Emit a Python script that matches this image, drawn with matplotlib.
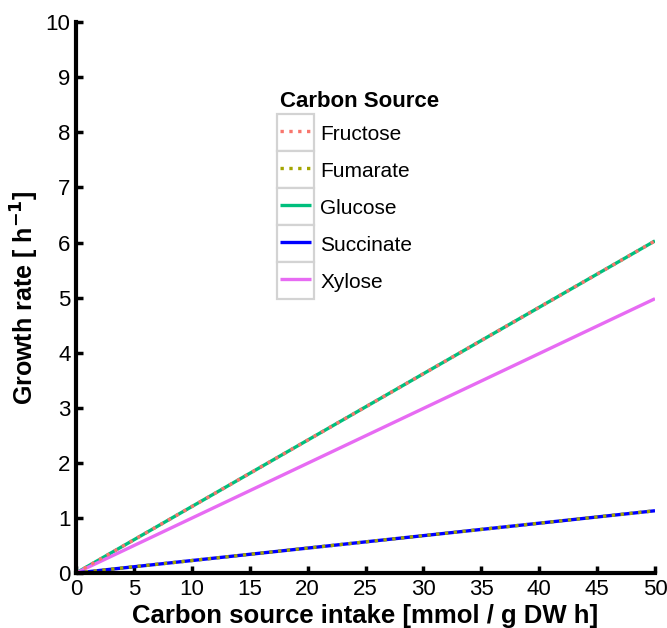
import matplotlib
matplotlib.use("Agg")
import matplotlib.pyplot as plt
from matplotlib.legend_handler import HandlerLine2D
from matplotlib.patches import Rectangle

plt.rcParams['font.family'] = ['Liberation Sans', 'DejaVu Sans']

# intake range and growth rate at each end
intake = [0, 50]
sources = ["Fructose", "Fumarate", "Glucose", "Succinate", "Xylose"]
growth = {
    "Fructose": [0, 6.03],
    "Fumarate": [0, 1.13],
    "Glucose": [0, 6.03],
    "Succinate": [0, 1.13],
    "Xylose": [0, 4.98],
}
colors = {
    "Fructose": "#F8766D",
    "Fumarate": "#A3A500",
    "Glucose": "#00BF7D",
    "Succinate": "#0000FF",
    "Xylose": "#E76BF3",
}
styles = {
    "Fructose": ":",
    "Fumarate": ":",
    "Glucose": "-",
    "Succinate": "-",
    "Xylose": "-",
}
xticks = list(range(0, 51, 5))
yticks = list(range(0, 11))

LEG_FS = 15
ROW = 26.6  # legend row pitch in points


class BoxedHandler(HandlerLine2D):
    # legend key with a grey square around it
    def create_artists(self, legend, orig_handle, xdescent, ydescent,
                       width, height, fontsize, trans):
        arts = super().create_artists(legend, orig_handle, xdescent, ydescent,
                                      width, height, fontsize, trans)
        pad = (ROW - width) / 2
        y0 = -ydescent + height / 2 - ROW / 2
        box = Rectangle((-xdescent - pad, y0), width + 2 * pad, ROW,
                        facecolor="white", edgecolor="#D3D3D3", lw=1.6,
                        transform=trans, zorder=0)
        return [box] + arts


fig = plt.figure(figsize=(6.67, 6.28), dpi=100)
ax = fig.add_axes([0.114, 0.0876, 0.868, 0.877])

draw_order = ["Glucose", "Xylose", "Succinate", "Fructose", "Fumarate"]
lines = {}
for s in draw_order:
    ln, = ax.plot(intake, growth[s], color=colors[s], linestyle=styles[s],
                  lw=2.4, label=s, solid_capstyle="butt",
                  dash_capstyle="butt")
    lines[s] = ln

ax.set_xlim(0, 50)
ax.set_ylim(0, 10)
ax.set_xticks(xticks)
ax.set_yticks(yticks)
ax.tick_params(direction="in", length=5, width=2.5, labelsize=16, pad=4)
for side in ["top", "right"]:
    ax.spines[side].set_visible(False)
for side in ["left", "bottom"]:
    ax.spines[side].set_linewidth(3)

ax.set_xlabel("Carbon source intake [mmol / g DW h]", fontsize=18.5,
              fontweight="bold", labelpad=3)
ax.set_ylabel("Growth rate [ h$^{\\mathbf{-1}}$]", fontsize=18,
              fontweight="bold", labelpad=3)

leg = ax.legend([lines[s] for s in sources], sources, title="Carbon Source",
                loc="upper left", bbox_to_anchor=(0.352, 0.875),
                frameon=False, fontsize=LEG_FS, handlelength=1.49,
                handleheight=1.2, labelspacing=0.73, handletextpad=0.45,
                borderaxespad=0, borderpad=0,
                handler_map={l: BoxedHandler() for l in lines.values()})
leg.get_title().set_fontweight("bold")
leg.get_title().set_fontsize(16)
leg._legend_box.align = "left"
leg._legend_box.sep = 7.3  # tighter gap under the title

fig.savefig("out.png", dpi=100)
